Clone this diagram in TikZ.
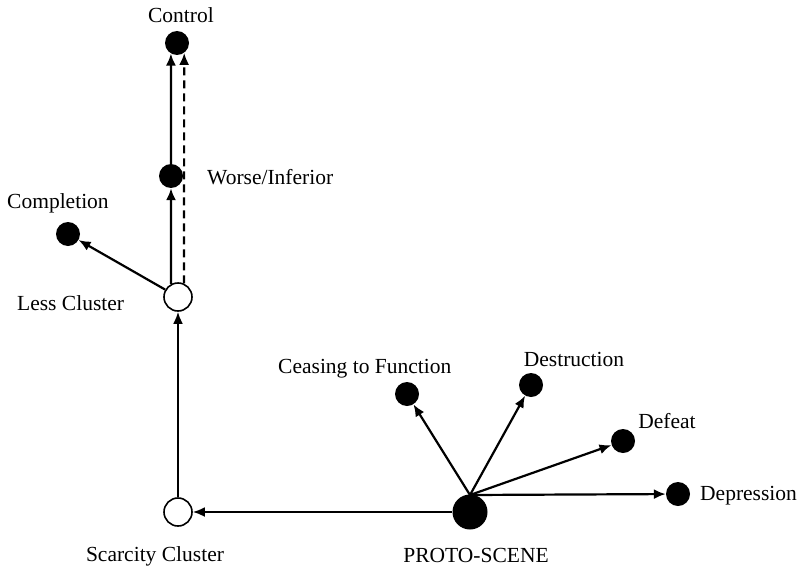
\documentclass[tikz,border=0pt]{standalone}
\usepackage{fontspec}
\setmainfont{Liberation Serif}
\usetikzlibrary{arrows.meta}
\begin{document}
\begin{tikzpicture}[x=1pt,y=-1pt,
  solid dot/.style={circle,fill=black,inner sep=0pt,minimum size=24pt},
  open dot/.style={circle,draw=black,line width=1.6pt,fill=white,inner sep=0pt,minimum size=28pt},
  big dot/.style={circle,fill=black,inner sep=0pt,minimum size=35pt},
  lbl/.style={font=\fontsize{21.5}{25}\selectfont,inner sep=0pt},
  link/.style={line width=2.2pt,-{Latex[length=12pt,width=10pt]}},
  dlink/.style={link,dash pattern=on 8pt off 5pt}]
\useasboundingbox (0,0) rectangle (799,567);
% points
\node[solid dot] (control) at (177,43) {};
\node[solid dot] (worse) at (171,176) {};
\node[open dot] (less) at (178,297) {};
\node[solid dot] (completion) at (68,234) {};
\node[open dot] (scarcity) at (178,512) {};
\node[big dot] (proto) at (470,512) {};
\node[solid dot] (ceasing) at (407,394) {};
\node[solid dot] (destruction) at (531,385) {};
\node[solid dot] (defeat) at (623,441) {};
\node[solid dot] (depression) at (678,494) {};
% labels
\node[lbl,anchor=base] (tcontrol) at (181,23) {Control};
\node[lbl,anchor=base west] (tworse) at (207,184) {Worse/Inferior};
\node[lbl,anchor=base west] (tless) at (17,310) {Less Cluster};
\node[lbl,anchor=base west] (tcompletion) at (7,208) {Completion};
\node[lbl,anchor=base] (tscarcity) at (155,561) {Scarcity Cluster};
\node[lbl,anchor=base] (tproto) at (476,562) {PROTO-SCENE};
\node[lbl,anchor=base west] (tceasing) at (278,373) {Ceasing to Function};
\node[lbl,anchor=base] (tdestruction) at (574,366) {Destruction};
\node[lbl,anchor=base] (tdefeat) at (667,428) {Defeat};
\node[lbl,anchor=base west] (tdepression) at (700,500) {Depression};
% connectors
\coordinate (hub) at (470,495);
\draw[link] (proto.west) -- (scarcity.east);
\draw[link] (scarcity.north) -- (less.south);
\draw[link] (less.118) -- (worse.south);
\draw[link] (worse.north) -- (control.240);
\draw[dlink] (less.66) -- (control.306);
\draw[link] (less.150) -- (completion);
\draw[link] (hub) -- (ceasing);
\draw[link] (hub) -- (destruction);
\draw[link] (hub) -- (defeat);
\draw[link] (hub) -- (depression);
\end{tikzpicture}
\end{document}
